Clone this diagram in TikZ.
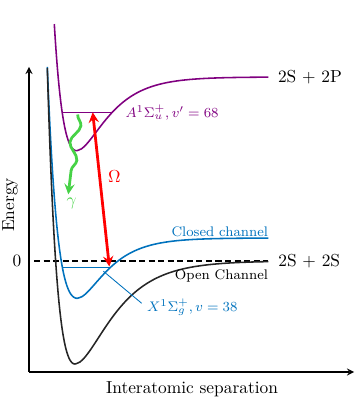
\documentclass[tikz,border=0pt]{standalone}
\usepackage{amsmath}
\usepackage{tikz}
\usetikzlibrary{arrows, positioning, calc, decorations.pathmorphing}
\usepackage{xcolor}
\definecolor{closedBlue}{RGB}{0, 114, 189}
\definecolor{excitedPurple}{RGB}{128, 0, 128}
\definecolor{photonGreen}{RGB}{70, 210, 70}

\begin{document}
\begin{tikzpicture}[
        x=0.576pt, y=0.576pt,
        axis/.style={->, >=stealth, line width=0.8pt},
        potential/.style={line width=0.9pt, smooth, samples=40},
        vib/.style={line width=0.9pt},
        chan/.style={font=\footnotesize, inner sep=0pt},
        asym/.style={inner sep=0pt},
        pump/.style={<->, >=stealth, line width=1.6pt, red},
        photon/.style={->, >=stealth, line width=1.6pt, photonGreen, decorate, decoration={snake, amplitude=2.6pt, segment length=20pt, post length=5pt}}
    ]
        \useasboundingbox (0,0) rectangle (357,403);
        \coordinate (origin) at (29,31);
        \coordinate (ytop) at (29,336);
        \coordinate (xend) at (354,31);
        \coordinate (zeroL) at (34,142);
        \coordinate (blackEnd) at (268.3,142);
        \coordinate (blueEnd) at (268.3,165);
        \coordinate (purpleEnd) at (268.3,326);
        \coordinate (purpleLvlL) at (62.2,290.7);
        \coordinate (purpleLvlR) at (112.3,290.7);
        \coordinate (blueLvlL) at (62.3,135.7);
        \coordinate (blueLvlR) at (110.5,135.7);
        \coordinate (pumpTop) at (92.7,290.7);
        \coordinate (pumpBot) at (109.3,136.5);
        \coordinate (decayTop) at (77.7,288.5);
        \coordinate (decayBot) at (68.3,208.7);
        \coordinate (xTap) at (103.3,131.8);
        \coordinate (xPtr) at (141.7,99.7);

        \draw[axis] (origin) -- (ytop);
        \draw[axis] (origin) -- (xend);
        \node[rotate=90] (energy) at (10,198) {Energy};
        \node (sep) at (192,14) {Interatomic separation};
        \node (zero) at (17,142) {0};

        \draw[line width=0.9pt, dash pattern=on 3.5pt off 2pt] (zeroL) -- (blackEnd);

        \draw[potential, closedBlue] plot[domain=47.3:77.3] (\x, {104.7+60.3*(1-exp(0.03616*(77.3-\x)))^2})
            -- plot[domain=77.3:268.3] (\x, {104.7+60.3*(1-exp(0.038*(77.3-\x)))^2});
        \draw[potential, black!85] plot[domain=47.3:75] (\x, {39+103*(1-exp(0.0358*(75-\x)))^2})
            -- plot[domain=75:268.3] (\x, {39+103*(1-exp(0.03*(75-\x)))^2});
        \draw[potential, excitedPurple] plot[domain=54.3:76.7] (\x, {252.3+73.7*(1-exp(0.0374*(76.7-\x)))^2})
            -- plot[domain=76.7:268.3] (\x, {252.3+73.7*(1-exp(0.036*(76.7-\x)))^2});

        \draw[vib, excitedPurple] (purpleLvlL) -- (purpleLvlR);
        \draw[vib, closedBlue] (blueLvlL) -- (blueLvlR);

        \node[asym, right=5.4pt of purpleEnd] (dp) {2S + 2P};
        \node[asym, right=5.6pt of blackEnd] (ds) {2S + 2S};
        \node[chan, text=closedBlue, anchor=south east] (closed) at ($(blueEnd)+(0,1)$) {Closed channel};
        \node[chan, anchor=north east] (open) at ($(blackEnd)+(0,-8)$) {Open Channel};
        \node[chan, text=excitedPurple, right=7.5pt of purpleLvlR] (alevel) {$A^1\Sigma_u^+, v'=68$};
        \node[chan, text=closedBlue, anchor=west] (xlevel) at ($(xPtr)+(5,-4)$) {$X^1\Sigma_g^+, v=38$};
        \draw[closedBlue, line width=0.5pt] (xTap) -- (xPtr);

        \draw[pump] (pumpTop) -- (pumpBot);
        \node[text=red] (omega) at (114.3,226) {$\Omega$};
        \draw[photon] (decayTop) -- (decayBot);
        \node[text=photonGreen] (gamma) at (71.7,200) {$\gamma$};
    \end{tikzpicture}
\end{document}
